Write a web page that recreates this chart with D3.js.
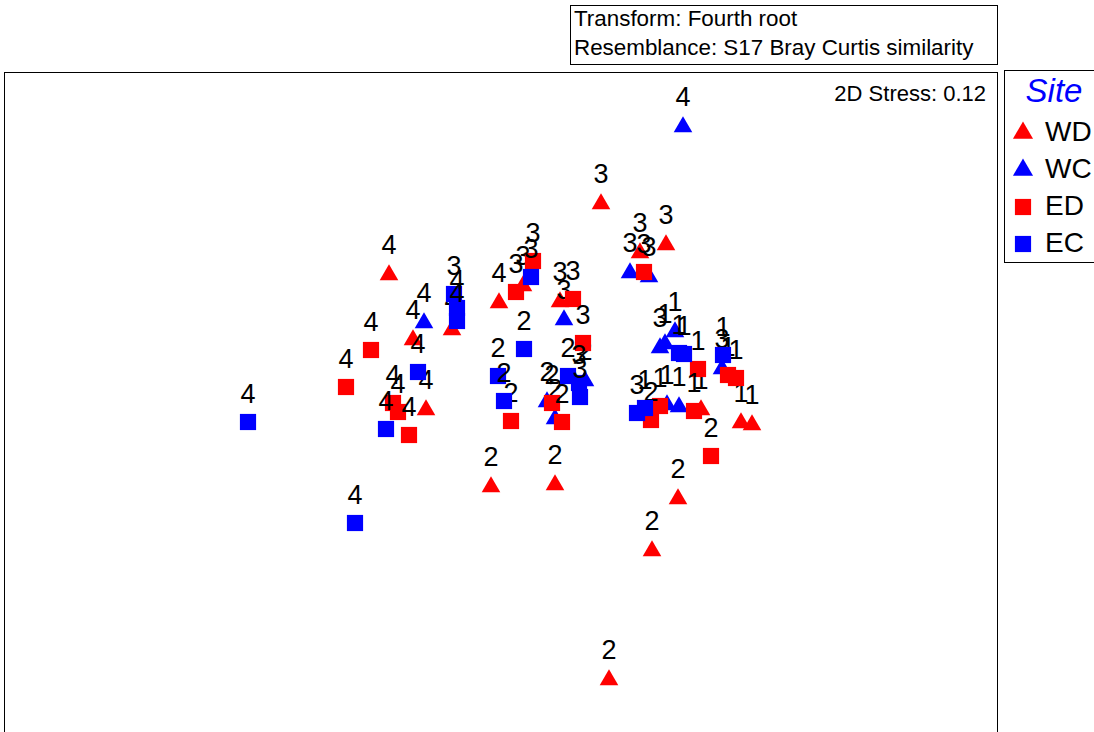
<!DOCTYPE html>
<html>
<head>
<meta charset="utf-8">
<script src="https://cdn.jsdelivr.net/npm/d3@7"></script>
<style>
  body { margin: 0; background: #fff; }
  text { font-family: "Liberation Sans", Arial, sans-serif; }
</style>
</head>
<body>
<div id="chart"></div>
<script>
// nMDS ordination coordinates, one set of arrays per site
var sites = ["WD", "WC", "ED", "EC"];

var wdX = [-0.555, -0.435, -0.37, -0.24, -0.005, 0.115, 0.30, 0.505, 0.70, 0.83, 1.005, 1.205, 1.26, -0.045, 0.275, 0.89, 0.76, 0.545];
var wdY = [0.635, 0.31, -0.04, 0.36, 0.495, 0.58, 0.50, 0.99, 0.745, 0.785, -0.04, -0.105, -0.115, -0.425, -0.415, -0.485, -0.745, -1.39];
var wdTime = ["4", "4", "4", "4", "4", "3", "3", "3", "3", "3", "1", "1", "1", "2", "2", "2", "2", "2"];

var wcX = [-0.38, 0.915, 0.32, 0.65, 0.745, 0.875, 0.80, 0.825, 0.835, 0.895, 1.11, 0.425, 0.235, 0.275];
var wcY = [0.395, 1.375, 0.41, 0.645, 0.625, 0.35, 0.27, 0.29, -0.015, -0.025, 0.165, 0.105, 0.0, -0.085];
var wcTime = ["4", "4", "3", "3", "3", "1", "3", "1", "1", "1", "3", "2", "2", "2"];

var edX = [-0.645, -0.77, -0.535, -0.51, -0.455, 0.165, 0.08, 0.365, 0.415, 0.72, 0.055, 0.26, 0.31, 0.99, 0.80, 0.755, 0.97, 1.14, 1.18, 1.055];
var edY = [0.25, 0.065, -0.015, -0.06, -0.175, 0.695, 0.54, 0.505, 0.285, 0.64, -0.105, -0.015, -0.11, 0.155, -0.03, -0.10, -0.055, 0.125, 0.11, -0.28];
var edTime = ["4", "4", "4", "4", "4", "3", "3", "3", "3", "3", "2", "2", "2", "1", "1", "2", "1", "1", "1", "2"];

var ecX = [-1.26, -0.41, -0.57, -0.725, -0.23, -0.215, -0.215, 0.155, 0.12, -0.01, 0.02, 0.34, 0.395, 0.40, 0.895, 0.92, 0.685, 0.725, 1.115];
var ecY = [-0.11, 0.14, -0.145, -0.615, 0.53, 0.46, 0.395, 0.615, 0.255, 0.12, -0.005, 0.12, 0.085, 0.015, 0.235, 0.23, -0.065, -0.04, 0.225];
var ecTime = ["4", "4", "4", "4", "3", "4", "4", "3", "2", "2", "2", "2", "3", "3", "1", "1", "3", "1", "1"];

var siteColor = { WD: "#ff0000", WC: "#0000ff", ED: "#ff0000", EC: "#0000ff" };
var siteShape = { WD: "triangle", WC: "triangle", ED: "square", EC: "square" };

var headerLines = ["Transform: Fourth root", "Resemblance: S17 Bray Curtis similarity"];
var stressText = "2D Stress: 0.12";

var width = 1094, height = 732;

var svg = d3.select("#chart").append("svg")
  .attr("width", width)
  .attr("height", height);

var x = d3.scaleLinear().domain([-2.48, 2.485]).range([4, 997]);
var y = d3.scaleLinear().domain([1.64, -1.7]).range([72, 740]);

// header box
svg.append("rect")
  .attr("x", 570.5).attr("y", 5.5)
  .attr("width", 427).attr("height", 59)
  .attr("fill", "none").attr("stroke", "#000");

svg.selectAll(".hdr")
  .data(headerLines)
  .enter().append("text")
  .attr("class", "hdr")
  .attr("x", 574)
  .attr("y", (d, i) => 26 + i * 29)
  .style("font-size", "22.4px")
  .text(d => d);

// plot frame
svg.append("rect")
  .attr("x", x.range()[0] + 0.5).attr("y", y.range()[0] + 0.5)
  .attr("width", x.range()[1] - x.range()[0]).attr("height", 700)
  .attr("fill", "none").attr("stroke", "#000");

svg.append("text")
  .attr("x", 986).attr("y", 101)
  .attr("text-anchor", "end")
  .style("font-size", "22px")
  .text(stressText);

var points = [];
[[wdX, wdY, wdTime], [wcX, wcY, wcTime], [edX, edY, edTime], [ecX, ecY, ecTime]].forEach((s, k) => {
  s[0].forEach((v, i) => points.push({ site: sites[k], x: v, y: s[1][i], t: s[2][i] }));
});

var triSym = d3.symbol().type(d3.symbolTriangle).size(150);
var sqSym = d3.symbol().type(d3.symbolSquare).size(262);

var g = svg.append("g");

points.forEach(p => {
  var px = x(p.x), py = y(p.y);
  if (siteShape[p.site] == "triangle") {
    g.append("path")
      .attr("d", triSym())
      .attr("transform", "translate(" + px + "," + (py + 2) + ")")
      .attr("fill", siteColor[p.site]);
  } else {
    g.append("path")
      .attr("d", sqSym())
      .attr("transform", "translate(" + px + "," + py + ")")
      .attr("fill", siteColor[p.site]);
  }
  g.append("text")
    .attr("x", px).attr("y", py - 19)
    .attr("text-anchor", "middle")
    .style("font-size", "27px")
    .text(p.t);
});

// legend
var leg = svg.append("g");
leg.append("rect")
  .attr("x", 1004.5).attr("y", 70.5)
  .attr("width", 100).attr("height", 192)
  .attr("fill", "none").attr("stroke", "#000");

leg.append("text")
  .attr("x", 1054).attr("y", 102)
  .attr("text-anchor", "middle")
  .style("font-size", "33px")
  .style("font-style", "italic")
  .attr("fill", "#0000ff")
  .text("Site");

var legTri = d3.symbol().type(d3.symbolTriangle).size(175);

sites.forEach((s, i) => {
  var ly = 131 + i * 37;
  leg.append("path")
    .attr("d", siteShape[s] == "triangle" ? legTri() : sqSym())
    .attr("transform", "translate(1023," + (ly + 2) + ")")
    .attr("fill", siteColor[s]);
  leg.append("text")
    .attr("x", 1045).attr("y", ly + 10)
    .style("font-size", "28px")
    .text(s);
});
</script>
</body>
</html>
